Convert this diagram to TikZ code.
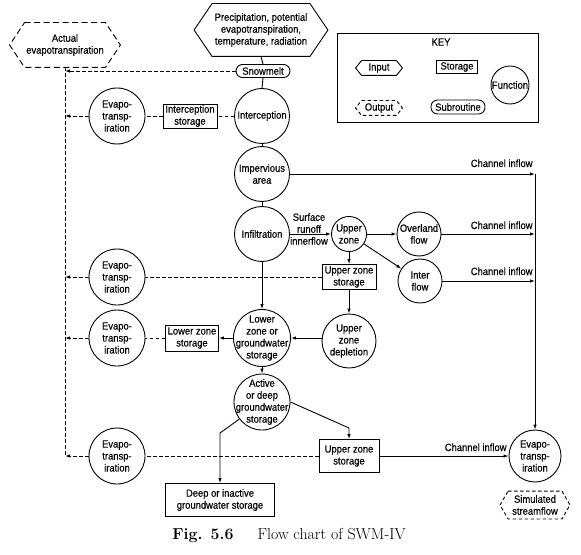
\documentclass[tikz,border=0pt]{standalone}
\usepackage{fontspec}
\setsansfont{Liberation Sans}[FakeStretch=0.9,FakeBold=0.4]
\usetikzlibrary{arrows.meta}
\newcommand\hexdraw[3][]{\draw[line width=0.9bp,#1] ([xshift=#3]#2.north west) -- ([xshift=-#3]#2.north east) -- (#2.east) -- ([xshift=-#3]#2.south east) -- ([xshift=#3]#2.south west) -- (#2.west) -- cycle;}
\begin{document}
\begin{tikzpicture}[x=1bp,y=-1bp,
  every node/.style={font=\sffamily\fontsize{10.5}{12}\selectfont, align=center, line width=0.9bp},
  fn/.style={draw, circle, minimum size=#1, inner sep=-8bp},
  fn/.default=55bp,
  box/.style={draw, rectangle, inner sep=1bp},
  sub/.style={draw, rounded corners=6.5bp, inner sep=1bp},
  plain/.style={inner sep=0pt},
  con/.style={line width=0.9bp},
  arr/.style={con, -{Latex[length=5bp,width=3.5bp]}},
  dsh/.style={con, dash pattern=on 3.5bp off 2.5bp},
  dshl/.style={con, dash pattern=on 6bp off 3.5bp},
  darr/.style={dsh, -{Latex[length=5bp,width=3.5bp]}},
]
\useasboundingbox (0,0) rectangle (581,555);

% inputs / outputs
\node[plain, minimum width=133bp, minimum height=52bp] (inp) at (261,30) {Precipitation, potential\\evapotranspiration,\\temperature, radiation};
\hexdraw{inp}{18bp}
\node[plain, minimum width=110bp, minimum height=44bp] (aet) at (65,45) {Actual\\evapotranspiration};
\hexdraw[dshl]{aet}{15bp}
\node[plain, minimum width=69bp, minimum height=27bp] (sim) at (535,505) {Simulated\\streamflow};
\hexdraw[dsh]{sim}{8bp}

% key
\node[draw, minimum width=201bp, minimum height=89bp, inner sep=0pt] (keybox) at (437.5,77.5) {};
\node[plain] (key) at (441,42) {KEY};
\node[plain, minimum width=46bp, minimum height=14bp] (kin) at (379,68) {Input};
\hexdraw{kin}{6bp}
\node[box, minimum width=41bp, minimum height=13bp] (kst) at (457,67) {Storage};
\node[fn=38bp, inner sep=-6bp] (kfn) at (510,85) {Function};
\node[plain, minimum width=46bp, minimum height=14bp] (kout) at (379,108) {Output};
\hexdraw[dsh]{kout}{6bp}
\node[sub, minimum width=54bp, minimum height=14bp] (ksub) at (458,107) {Subroutine};

% main column
\node[sub, minimum width=54bp, minimum height=13bp] (snow) at (263,71) {Snowmelt};
\node[fn] (icp) at (262,116) {Interception};
\node[box, minimum width=54bp, minimum height=24bp] (ist) at (190,116) {Interception\\storage};
\node[fn=56bp] (ev1) at (117,116) {Evapo-\\transp-\\iration};
\node[fn] (imp) at (262,174) {Impervious\\area};
\node[fn] (inf) at (262,234) {Infiltration};
\node[plain] (sr) at (309,229) {Surface\\runoff\\innerflow};
\node[fn=35bp, inner sep=-5bp] (uz) at (349,234) {Upper\\zone};
\node[fn=44bp] (ovl) at (419,234) {Overland\\flow};
\node[fn=44bp] (itf) at (420,281) {Inter\\flow};
\node[box, minimum width=54bp, minimum height=25bp] (uzs) at (349,277) {Upper zone\\storage};
\node[fn=56bp] (ev2) at (117,277) {Evapo-\\transp-\\iration};
\node[fn=54bp] (uzd) at (349,341) {Upper\\zone\\depletion};
\node[fn=57bp] (lz) at (262,338) {Lower\\zone or\\groundwater\\storage};
\node[box, minimum width=53bp, minimum height=26bp] (lzs) at (192,338) {Lower zone\\storage};
\node[fn=56bp] (ev3) at (117,338) {Evapo-\\transp-\\iration};
\node[fn=56bp] (act) at (262,402) {Active\\or deep\\groundwater\\storage};
\node[box, minimum width=60bp, minimum height=33bp] (uzs2) at (349,456) {Upper zone\\storage};
\node[fn=56bp] (ev4) at (117,456) {Evapo-\\transp-\\iration};
\node[box, minimum width=109bp, minimum height=33bp] (deep) at (220,500) {Deep or inactive\\groundwater storage};
\node[fn=52bp] (evf) at (535,456) {Evapo-\\transp-\\iration};

% channel inflow labels
\node[plain, anchor=base east] (ch1) at (533,167) {Channel inflow};
\node[plain, anchor=base east] (ch2) at (533,229) {Channel inflow};
\node[plain, anchor=base east] (ch3) at (533,275) {Channel inflow};
\node[plain, anchor=base east] (ch4) at (507,451) {Channel inflow};

\coordinate (chx) at (535,0);
\coordinate (vx) at (65,0);
\coordinate (k1) at (349,428);
\coordinate (k2) at (220,433);

% solid connectors
\draw[con] (inp.south) -- (snow.north);
\draw[con] (snow.south) -- (icp.north);
\draw[con] (icp.south) -- (imp.north);
\draw[con] (imp.south) -- (inf.north);
\draw[arr] (inf.south) -- (lz.north);
\draw[arr] (lz.south) -- (act.north);
\draw[arr] (imp.east) -- (imp.east -| chx);
\draw[arr] (imp.east -| chx) -- (evf.north);
\draw[arr] (inf.east) -- (uz.west);
\draw[arr] (uz.east) -- (ovl.west);
\draw[arr] (uz) -- (itf);
\draw[arr] (ovl.east) -- (ovl.east -| chx);
\draw[arr] (itf.east) -- (itf.east -| chx);
\draw[arr] (uz.south) -- (uzs.north);
\draw[arr] (uzs.south) -- (uzd.north);
\draw[arr] (uzd.west |- lz.east) -- (lz.east);
\draw[arr] (lz.west) -- (lzs.east);
\draw[arr] (act.east) -- (k1) -- (uzs2.north);
\draw[arr] (act.217) -- (k2) -- (deep.north);
\draw[arr] (uzs2.east) -- (evf.west);

% dashed connectors
\draw[dsh] (aet.south) -- (vx |- ev4.west);
\draw[darr] (snow.west) -- (snow.west -| vx);
\draw[dsh] (icp.west) -- (ist.east);
\draw[dsh] (ist.west) -- (ev1.east);
\draw[darr] (ev1.west) -- (ev1.west -| vx);
\draw[dsh] (uzs.west) -- (ev2.east);
\draw[darr] (ev2.west) -- (ev2.west -| vx);
\draw[dsh] (lzs.west) -- (ev3.east);
\draw[darr] (ev3.west) -- (ev3.west -| vx);
\draw[dsh] (uzs2.west) -- (ev4.east);
\draw[darr] (ev4.west) -- (ev4.west -| vx);

% caption
\node[plain, font=\rmfamily\fontsize{16}{18}\selectfont] (cap) at (289,536) {\textbf{Fig. 5.6}\hspace{24bp}Flow chart of SWM-IV};
\end{tikzpicture}
\end{document}
